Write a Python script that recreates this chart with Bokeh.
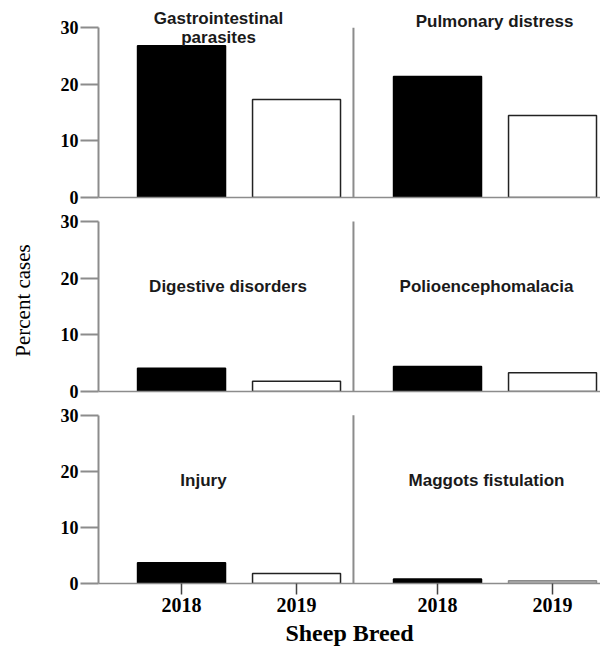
from bokeh.plotting import figure
from bokeh.layouts import column
from bokeh.models import FixedTicker, ColumnDataSource, Range1d, CustomJSTickFormatter
from bokeh.core.properties import value
from bokeh.embed import file_html
from bokeh.resources import INLINE

# ---------------- data ----------------
years = ["2018", "2019"]
conditions = ["Gastrointestinal\nparasites", "Pulmonary distress",
              "Digestive disorders", "Polioencephomalacia",
              "Injury", "Maggots fistulation"]
pct_2018 = [26.8, 21.4, 4.1, 4.4, 3.7, 0.8]
pct_2019 = [17.3, 14.5, 1.8, 3.3, 1.8, 0.5]
y_ticks = [0, 10, 20, 30]

# ---------------- layout / style ----------------
FIG_W = 600
BORDER_L = 98
GROUP_GAP = 2.226          # offset of right panel relative to left panel
X_START = 0.278
X_END = X_START + (FIG_W - BORDER_L) / 115.0
DIVIDER_X = 2.495
BAR_W = 0.765
ROW_FRAME_H = [189, 182, 180]
ROW_Y_END = [33.4, 32.12, 32.09]
ROW_BORDER_TOP = [8, 0, 0]
ROW_BORDER_BOTTOM = [12, 12, 66]
TITLE_X = [1.322, 3.722, 1.404, 3.652, 1.191, 3.652]
TITLE_Y = [30.0, 31.06, 18.5, 18.5, 18.4, 18.4]
FILL_2019 = ["white", "white", "white", "white", "white", "#b8b8b8"]
LINE_2019 = ["#222222", "#222222", "#222222", "#222222", "#222222", "#8a8a8a"]
AXIS_GRAY = "#8c8c8c"
SERIF = "Liberation Serif"
SANS = "Liberation Sans"

tick_pos = [1 + g * GROUP_GAP + j for g in range(2) for j in range(len(years))]
tick_lab = [years[j] for g in range(2) for j in range(len(years))]

rows = []
for r in range(3):
    bottom = (r == 2)
    p = figure(width=FIG_W,
               height=ROW_BORDER_TOP[r] + ROW_FRAME_H[r] + ROW_BORDER_BOTTOM[r],
               x_range=Range1d(X_START, X_END), y_range=Range1d(0, ROW_Y_END[r]),
               output_backend="svg", toolbar_location=None,
               min_border_left=BORDER_L, min_border_right=0,
               min_border_top=ROW_BORDER_TOP[r],
               min_border_bottom=ROW_BORDER_BOTTOM[r],
               outline_line_color=None, background_fill_color="white",
               border_fill_color="white")
    p.xgrid.visible = False
    p.ygrid.visible = False

    xs, tops, fills, lines = [], [], [], []
    for g in range(2):
        k = 2 * r + g
        base = 1 + g * GROUP_GAP
        xs += [base, base + 1]
        tops += [pct_2018[k], pct_2019[k]]
        fills += ["black", FILL_2019[k]]
        lines += ["black", LINE_2019[k]]
    src = ColumnDataSource(dict(x=xs, top=tops, fill=fills, line=lines))
    p.vbar(x="x", top="top", width=BAR_W, bottom=0, source=src,
           fill_color="fill", line_color="line", line_width=1.5)

    # panel divider
    p.segment(x0=[DIVIDER_X], y0=[0], x1=[DIVIDER_X], y1=[y_ticks[-1]],
              line_color=AXIS_GRAY, line_width=2)

    # panel titles
    tsrc = ColumnDataSource(dict(x=TITLE_X[2 * r:2 * r + 2], y=TITLE_Y[2 * r:2 * r + 2],
                                 t=conditions[2 * r:2 * r + 2]))
    p.text(x="x", y="y", text="t", source=tsrc, text_align="center",
           text_baseline="middle", text_font=value(SANS), text_font_style="bold",
           text_font_size="17px", text_color="#1a1a1a", text_line_height=1.0)

    # y axis
    ya = p.yaxis[0]
    ya.ticker = FixedTicker(ticks=y_ticks)
    ya.bounds = (y_ticks[0], y_ticks[-1])
    ya.axis_line_color = AXIS_GRAY
    ya.axis_line_width = 2
    ya.major_tick_line_color = AXIS_GRAY
    ya.major_tick_line_width = 2
    ya.major_tick_out = 18
    ya.major_tick_in = 0
    ya.minor_tick_line_color = None
    ya.major_label_standoff = 2
    ya.major_label_text_font = SERIF
    ya.major_label_text_font_style = "bold"
    ya.major_label_text_font_size = "18px"
    ya.major_label_text_color = "black"
    if r == 1:
        ya.axis_label = "Percent cases"
        ya.axis_label_text_font = SERIF
        ya.axis_label_text_font_style = "normal"
        ya.axis_label_text_font_size = "21px"
        ya.axis_label_text_color = "black"
        ya.axis_label_standoff = 23

    # x axis
    xa = p.xaxis[0]
    xa.axis_line_color = AXIS_GRAY
    xa.axis_line_width = 1.5
    xa.minor_tick_line_color = None
    if bottom:
        xa.ticker = FixedTicker(ticks=tick_pos)
        xa.formatter = CustomJSTickFormatter(args=dict(pos=tick_pos, labs=tick_lab),
                                             code="return labs[pos.indexOf(tick)];")
        xa.major_tick_out = 11
        xa.major_tick_in = 0
        xa.major_tick_line_color = "#444444"
        xa.major_tick_line_width = 1.5
        xa.major_label_standoff = 3
        xa.major_label_text_font = SERIF
        xa.major_label_text_font_style = "bold"
        xa.major_label_text_font_size = "20px"
        xa.major_label_text_color = "black"
        xa.axis_label = "Sheep Breed"
        xa.axis_label_text_font = SERIF
        xa.axis_label_text_font_style = "bold"
        xa.axis_label_text_font_size = "24px"
        xa.axis_label_text_color = "black"
        xa.axis_label_standoff = 5
    else:
        xa.ticker = FixedTicker(ticks=[])
        xa.major_tick_line_color = None
        xa.major_tick_out = 0
        xa.major_tick_in = 0
        xa.major_label_standoff = 0
    rows.append(p)

layout = column(*rows, spacing=0)
open("out.html", "w").write(file_html(layout, INLINE))
